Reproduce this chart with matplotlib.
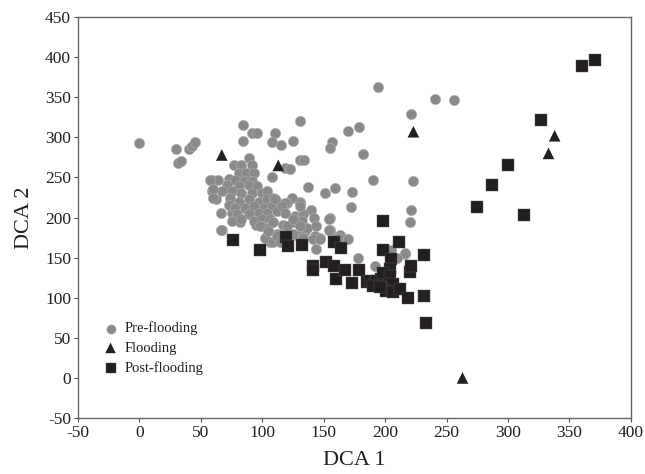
import numpy as np
from matplotlib import pyplot as plt

plt.rcParams['font.family'] = ['Liberation Serif', 'DejaVu Serif']
plt.rcParams['axes.unicode_minus'] = False

# Pre-flooding (grey circles)
pre_x = [0, 30, 40, 43, 45, 31, 34,
         84, 91.5, 96, 84, 110, 108, 115, 125, 131, 131, 108, 118.5, 122.5,
         194, 241, 256, 221, 170, 179, 157, 155, 182, 134, 137, 151, 159, 173, 172, 190, 223, 221, 220, 216,
         155, 155, 140, 142, 131, 124,
         178, 192, 205, 216, 210, 169, 163, 155, 143, 135, 144, 147, 159, 170, 129, 132, 106, 112, 95, 82,
         67, 75, 131, 120, 112,
         89, 77, 83, 91.5, 81, 87, 93, 59, 64, 72.5, 78, 85, 91.5, 71, 81, 89, 95.5, 59, 67, 75, 83, 91.5,
         99.6, 104, 62, 74, 81, 89, 97, 104, 109, 72.5, 78, 86, 93, 101, 108, 66, 79, 89, 97, 104, 75, 83,
         93, 100, 106, 66, 100, 105, 102, 109,
         118.5, 127, 133, 112, 109, 117, 125, 132, 136, 144, 154, 154, 112, 125, 133, 141.5, 147, 162,
         57.6, 60, 60, 98, 105, 120, 125, 131, 131, 110, 116, 118.5, 114.5]
pre_y = [293, 286, 285, 289, 294, 268, 270,
         316, 306, 305, 296, 305, 294, 290, 295, 321, 272, 250, 262, 261,
         363, 348, 347, 329, 308, 313, 294, 287, 279, 272, 238, 231, 237, 232, 213, 247, 246, 209, 195, 155,
         199, 185, 210, 200, 220, 225,
         150, 139, 160, 156, 150, 173, 178, 183, 177, 183, 161, 175, 175, 173, 177, 202, 169, 179, 191, 194,
         185, 206, 218, 218, 220,
         274, 266, 266, 265, 256, 256, 255, 247, 247, 248, 247, 245, 245, 241, 239, 241, 239, 233, 233, 233,
         231, 231, 231, 233, 223, 225, 220, 223, 220, 223, 225, 216, 212, 212, 214, 212, 214, 206, 204, 204,
         206, 206, 196, 198, 196, 198, 198, 185, 189, 187, 174, 170,
         218, 202, 204, 208, 194, 191, 194, 196, 187, 189, 198, 185, 177, 179, 175, 173, 173, 175,
         247, 235, 225, 189, 183, 189, 198, 189, 214, 223, 214, 206, 169]

# Flooding (triangles)
fl_x = [67, 113, 223, 263, 333, 338]
fl_y = [278, 265, 307, 0, 280, 302]

# Post-flooding (squares)
post_x = [76, 98, 119, 121, 132, 158, 164, 141, 141, 152, 158, 160, 167, 173, 179, 185, 188, 192, 193,
          197, 198, 198, 205, 204, 198, 204, 206, 201, 206, 212, 211, 220, 221, 219, 232, 233, 232,
          275, 287, 300, 313, 327, 360, 371, 190, 196]
post_y = [172, 160, 176, 165, 166, 169, 162, 140, 135, 144, 140, 123, 134, 119, 134, 120, 121, 117, 121,
          123, 196, 160, 148, 136, 131, 127, 117, 109, 107, 111, 170, 132, 140, 100, 102, 68, 153,
          213, 240, 265, 203, 322, 389, 396, 115, 114]

fig = plt.figure(figsize=(6.45, 4.74), dpi=100)
ax = fig.add_axes([0.121, 0.118, 0.857, 0.846])

ax.scatter(pre_x, pre_y, s=55, marker='o', color='#8a8a8a', edgecolors='#b0b0b0',
           linewidths=0.4, label='Pre-flooding', zorder=2)
ax.scatter(fl_x, fl_y, s=70, marker='^', color='#231f20', edgecolors='none',
           label='Flooding', zorder=3)
ax.scatter(post_x, post_y, s=70, marker='s', color='#231f20', edgecolors='#555555',
           linewidths=0.3, label='Post-flooding', zorder=4)

ax.set_xlim(-50, 400)
ax.set_ylim(-50, 450)
ax.set_xticks(np.arange(-50, 401, 50))
ax.set_yticks(np.arange(-50, 451, 50))
ax.tick_params(direction='out', length=3, width=0.8, color='#555555',
               labelsize=12.5, labelcolor='#231f20', pad=2)
for sp in ax.spines.values():
    sp.set_color('#666666')
    sp.set_linewidth(1.0)

ax.set_xlabel('DCA 1', fontsize=16, color='#231f20', labelpad=7)
ax.set_ylabel('DCA 2', fontsize=16, color='#231f20', labelpad=8)

leg = ax.legend(loc='upper left', bbox_to_anchor=(0.035, 0.255), frameon=False,
                fontsize=10.5, handletextpad=0.45, handlelength=1.0, labelspacing=0.42,
                borderaxespad=0, markerscale=0.9)
for t in leg.get_texts():
    t.set_color('#231f20')

plt.savefig('out.png', dpi=100)
